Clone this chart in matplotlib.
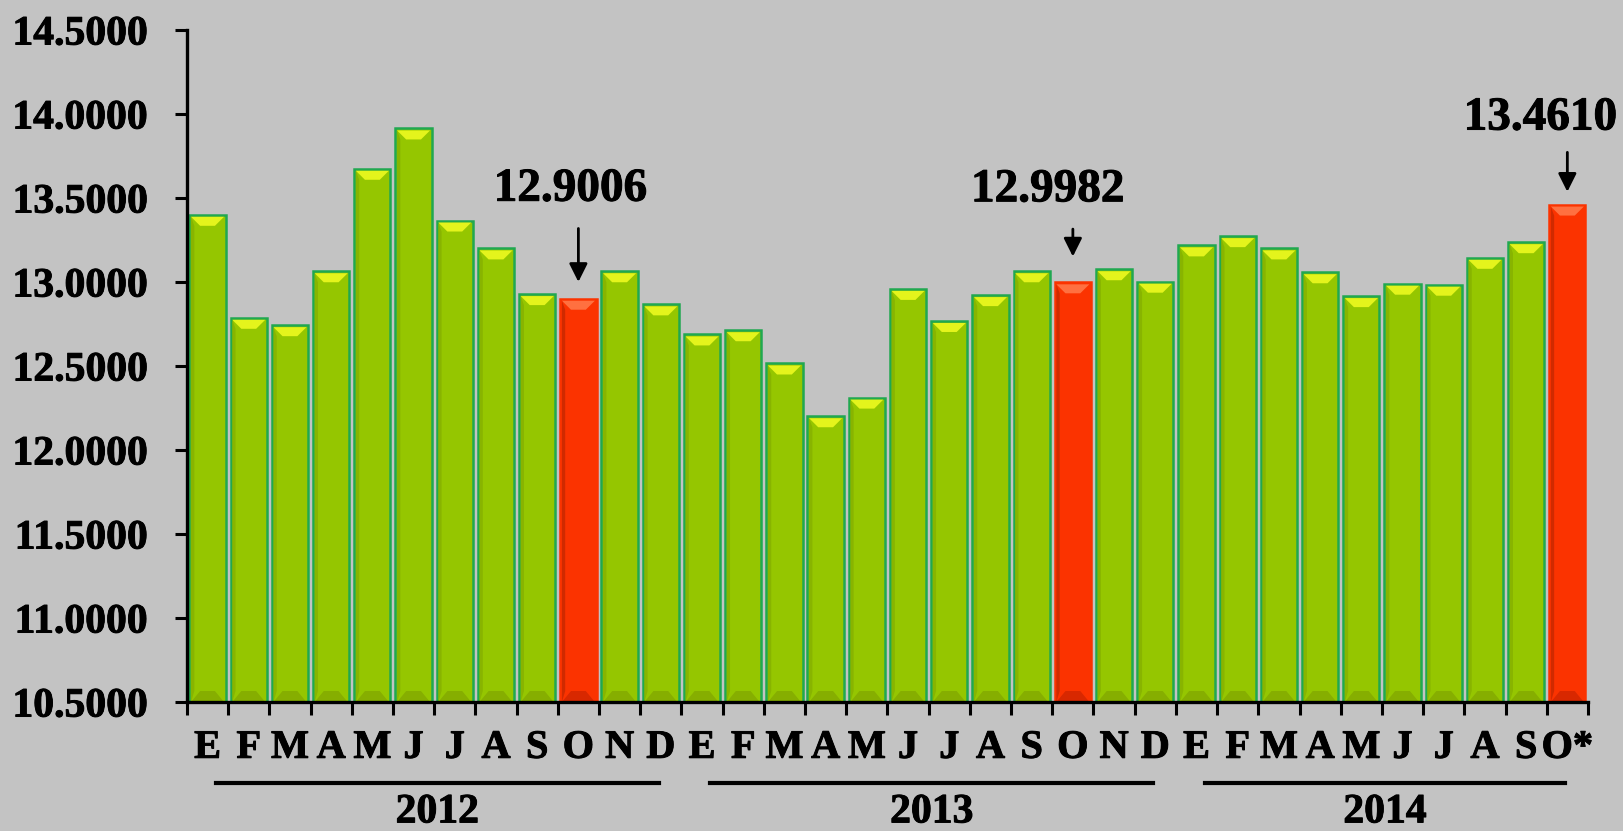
import matplotlib.pyplot as plt
from matplotlib.patches import Polygon
import matplotlib.patheffects as pe

months = ['E', 'F', 'M', 'A', 'M', 'J', 'J', 'A', 'S', 'O', 'N', 'D',
          'E', 'F', 'M', 'A', 'M', 'J', 'J', 'A', 'S', 'O', 'N', 'D',
          'E', 'F', 'M', 'A', 'M', 'J', 'J', 'A', 'S', 'O*']
values = [13.40, 12.787, 12.743, 13.064, 13.674, 13.914, 13.366, 13.20, 12.928, 12.9006, 13.064, 12.867,
          12.688, 12.713, 12.515, 12.201, 12.312, 12.959, 12.768, 12.922, 13.064, 12.9982, 13.076, 13.002,
          13.218, 13.273, 13.20, 13.058, 12.916, 12.99, 12.984, 13.144, 13.237, 13.4610]
highlight = [9, 21, 33]
years = ['2012', '2013', '2014']
year_first = [0, 12, 24]
year_last = [11, 23, 33]

bg = '#c3c3c3'
green = '#95c600'
red = '#fb3300'

plt.rcParams['font.family'] = ['Liberation Serif', 'DejaVu Serif']
plt.rcParams['font.weight'] = 'bold'
heavy = [pe.withStroke(linewidth=0.7, foreground='black')]

fig = plt.figure(figsize=(16.24, 8.31), dpi=100)
fig.patch.set_facecolor(bg)
ax = fig.add_axes([0.1151, 0.1552, 0.8627, 0.8087])
ax.set_facecolor(bg)

x = list(range(len(values)))
colors = [red if i in highlight else green for i in x]
edges = [red if i in highlight else '#20a850' for i in x]
w = 0.88
ax.bar(x, [v - 10.5 for v in values], bottom=10.5, width=w, color=colors,
       edgecolor=edges, linewidth=1.8, zorder=2)

# bevel look: light trapezoid on top, darker one at the bottom
k = 0.5 / 84  # data units per pixel
for i, v in enumerate(values):
    hl = i in highlight
    top_c = '#ff7040' if hl else '#e4f41c'
    bot_c = '#d82800' if hl else '#86ae00'
    x0, x1 = i - w / 2 + 0.04, i + w / 2 - 0.04
    h = 11 * k
    d = 0.22
    ax.add_patch(Polygon([(x0, v - 2 * k), (x1, v - 2 * k), (x1 - d, v - h), (x0 + d, v - h)],
                         closed=True, facecolor=top_c, edgecolor='none', zorder=3))
    ax.add_patch(Polygon([(x0, 10.5), (x1, 10.5), (x1 - d, 10.5 + h), (x0 + d, 10.5 + h)],
                         closed=True, facecolor=bot_c, edgecolor='none', zorder=3))
    # darker left side band
    ax.add_patch(Polygon([(x0, 10.5), (x0 + 0.08, 10.5 + h), (x0 + 0.08, v - h), (x0, v - 2 * k)],
                         closed=True, facecolor='#d02a00' if hl else '#88b400',
                         edgecolor='none', zorder=3))

# annotations: (gap px, arrow length px, text dx px, text dy px)
ann_layout = [(14, 59, -8, 109), (23, 33, -25, 92), (10, 45, -27, 86)]
for idx, (gap, ln, dx, dy) in zip(highlight, ann_layout):
    v = values[idx]
    ax.annotate('', xy=(idx, v + gap * k), xytext=(idx, v + (gap + ln) * k),
                arrowprops=dict(arrowstyle='-|>,head_width=0.55,head_length=1.1',
                                color='black', lw=2, mutation_scale=10),
                annotation_clip=False)
    ax.text(idx + dx / 41.2, v + dy * k, f'{v:.4f}', ha='center', va='center',
            fontsize=34, fontweight='bold', clip_on=False, path_effects=heavy)

ax.set_xlim(-0.5, len(values) - 0.5)
ax.set_ylim(10.5, 14.5)
ax.set_yticks([10.5 + 0.5 * j for j in range(9)])
ax.set_yticklabels([f'{10.5 + 0.5 * j:.4f}' for j in range(9)])
ax.set_xticks([i - 0.5 for i in range(len(values) + 1)])
ax.set_xticklabels([])
ax.set_xticks(x, minor=True)
ax.set_xticklabels(months, minor=True)
ax.tick_params(axis='x', which='major', length=9, width=2.2, direction='out')
ax.tick_params(axis='x', which='minor', length=0, pad=20, labelsize=29)
ax.tick_params(axis='y', length=9, width=2.2, pad=19, labelsize=30)
for lbl in ax.get_yticklabels() + ax.get_xticklabels(minor=True):
    lbl.set_path_effects(heavy)
for s in ['top', 'right']:
    ax.spines[s].set_visible(False)
for s in ['left', 'bottom']:
    ax.spines[s].set_linewidth(2.4)
    ax.spines[s].set_zorder(5)

for yr, a, b in zip(years, year_first, year_last):
    x0 = a + 0.2
    x1 = b - 0.05
    ax.plot([x0, x1], [-0.1205, -0.1205], color='black', lw=3,
            transform=ax.get_xaxis_transform(), clip_on=False)
    ax.text((x0 + x1) / 2, -0.136, yr, ha='center', va='top', fontsize=30,
            fontweight='bold', transform=ax.get_xaxis_transform(), path_effects=heavy)

fig.savefig('out.png', dpi=100, facecolor=bg)
